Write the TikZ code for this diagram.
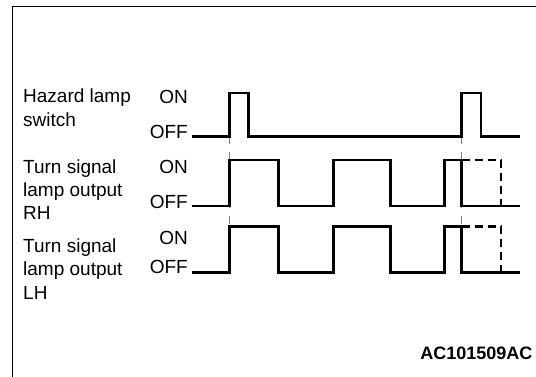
\documentclass[tikz,border=0pt]{standalone}
\usepackage{fontspec}
\setmainfont{Liberation Sans}
\usepackage{tikz}
\usetikzlibrary{positioning}

\begin{document}
\begin{tikzpicture}[
  x=1pt,y=-1pt,
  font=\fontsize{19}{23.5}\selectfont,
  lbl/.style={anchor=base west,align=left,inner sep=0pt},
  lvl/.style={anchor=base east,inner sep=0pt},
  wave/.style={line width=2.9pt,line join=miter},
  ghost/.style={line width=2.9pt,dash pattern=on 8pt off 5pt},
  guide/.style={gray,line width=0.7pt,dash pattern=on 8pt off 8pt}
]
\useasboundingbox (0,0) rectangle (536,377);
% frame
\draw[line width=1.2pt] (536,6.7) -- (12.3,6.7) -- (12.3,377);

% signal names (base = last line)
\node[lbl] (haz) at (23,126.5) {Hazard lamp\\switch};
\node[lbl] (rh) at (23,220) {Turn signal\\lamp output\\RH};
\node[lbl] (lh) at (23,299) {Turn signal\\lamp output\\LH};

% levels
\node[lvl] (hazon) at (188,104) {ON};
\node[lvl] (hazoff) at (188,138.3) {OFF};
\node[lvl] (rhon) at (188,173.3) {ON};
\node[lvl] (rhoff) at (188,208.3) {OFF};
\node[lvl] (lhon) at (188,244) {ON};
\node[lvl] (lhoff) at (188,273.3) {OFF};

% timing guides
\draw[guide] (229.3,136.5) -- (229.3,226.5);
\draw[guide] (461.7,136.5) -- (461.7,226.5);

% hazard switch
\draw[wave] (191.7,136.5) -- (229.3,136.5) -- (229.3,93) -- (248.3,93) -- (248.3,136.5)
  -- (461.7,136.5) -- (461.7,93) -- (481,93) -- (481,136.5) -- (520,136.5);

% turn signal outputs
\foreach \on/\off in {160/206,226.5/272.7}{
  \draw[wave] (191.7,\off) -- (229.3,\off) -- (229.3,\on) -- (278.5,\on) -- (278.5,\off)
    -- (333.3,\off) -- (333.3,\on) -- (390.7,\on) -- (390.7,\off) -- (444.5,\off)
    -- (444.5,\on) -- (461.7,\on) -- (461.7,\off) -- (520,\off);
  \draw[ghost] (461.7,\on) -- (501,\on) -- (501,\off+2);
}

\node[anchor=base east,inner sep=0pt,font=\fontsize{18}{20}\selectfont\bfseries] (code) at (532.7,359.3) {AC101509AC};
\end{tikzpicture}
\end{document}
